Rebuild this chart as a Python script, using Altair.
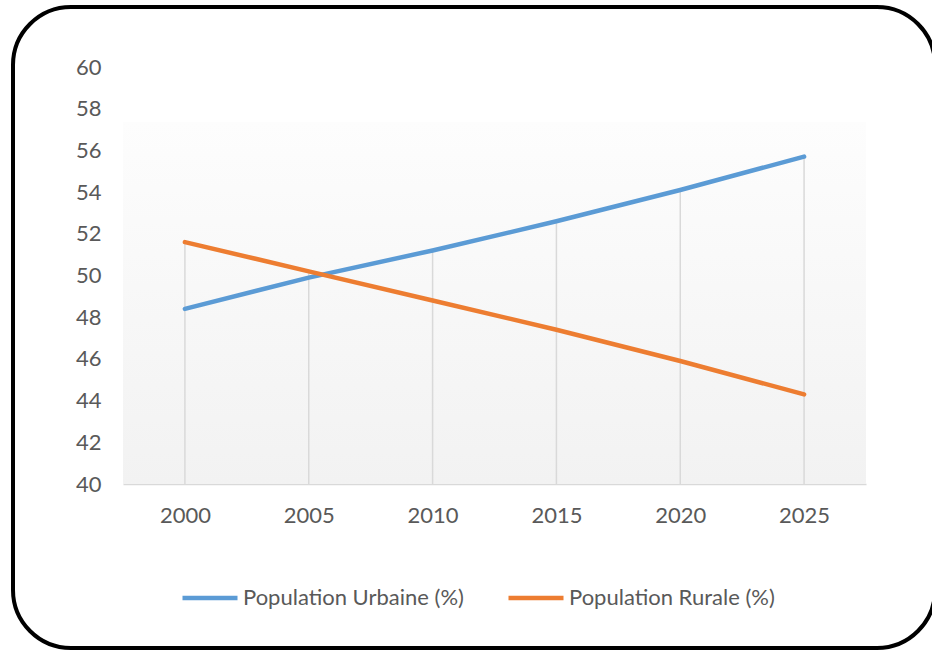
import altair as alt
import pandas as pd

years = [2000, 2005, 2010, 2015, 2020, 2025]
urban = [48.4, 49.9, 51.2, 52.6, 54.1, 55.7]
rural = [51.6, 50.2, 48.8, 47.4, 45.9, 44.3]
series_names = ["Population Urbaine (%)", "Population Rurale (%)"]
series_colors = ["#5B9BD5", "#ED7D31"]
y_ticks = [40, 42, 44, 46, 48, 50, 52, 54, 56, 58, 60]

FONT = "Lato"
TXT = "#595959"

long_df = pd.DataFrame(
    {
        "year": years * 2,
        "value": urban + rural,
        "series": [series_names[0]] * len(years) + [series_names[1]] * len(years),
    }
)
drop_df = pd.DataFrame({"year": years, "top": [max(u, r) for u, r in zip(urban, rural)]})

W, H = 743, 417

x_scale = alt.Scale(domain=[1997.5, 2027.5], nice=False, zero=False)
y_scale = alt.Scale(domain=[40, 60], nice=False, zero=False)

frame = alt.Chart(pd.DataFrame({"a": [0]})).mark_rect(
    fill=None, fillOpacity=0, stroke="black", strokeWidth=4, cornerRadius=58
).encode(
    x=alt.value(-110), x2=alt.value(812), y=alt.value(-60), y2=alt.value(581)
)

bg = alt.Chart(pd.DataFrame({"a": [0]})).mark_rect(
    color=alt.LinearGradient(
        gradient="linear",
        stops=[
            alt.GradientStop(color="#FDFDFD", offset=0),
            alt.GradientStop(color="#F2F2F2", offset=1),
        ],
        x1=0, x2=0, y1=0, y2=1,
    )
).encode(x=alt.value(0), x2=alt.value(W), y=alt.value(55), y2=alt.value(H))

drops = alt.Chart(drop_df).mark_rule(color="#D9D9D9", strokeWidth=1.5).encode(
    x=alt.X("year:Q", scale=x_scale,
            axis=alt.Axis(values=years, format="d", title=None, grid=False, ticks=False,
                          domain=True, domainColor="#D9D9D9", domainWidth=1.5,
                          labelFont=FONT, labelFontSize=22, labelColor=TXT, labelPadding=21)),
    y=alt.Y("top:Q", scale=y_scale,
            axis=alt.Axis(values=y_ticks, title=None, grid=False, ticks=False, domain=False,
                          labelFont=FONT, labelFontSize=22, labelColor=TXT, labelPadding=22)),
    y2=alt.datum(40),
)

lines = alt.Chart(long_df).mark_line(strokeWidth=4.5, strokeCap="round", strokeJoin="round").encode(
    x=alt.X("year:Q", scale=x_scale),
    y=alt.Y("value:Q", scale=y_scale),
    color=alt.Color(
        "series:N",
        scale=alt.Scale(domain=series_names, range=series_colors),
        sort=series_names,
        legend=alt.Legend(
            title=None, orient="none", legendX=57, legendY=501, direction="horizontal",
            symbolType="stroke", symbolSize=3025, symbolStrokeWidth=4.5,
            labelFont=FONT, labelFontSize=22, labelColor=TXT, labelOffset=3,
            columnPadding=35, labelLimit=400,
        ),
    ),
)

chart = alt.layer(frame, bg, drops, lines).properties(
    width=W, height=H,
    padding={"left": 123, "top": 67, "right": 66, "bottom": 166},
    autosize=alt.AutoSizeParams(type="none"),
    background="white",
).configure_view(stroke=None)

chart.save("out.html", embed_options={"renderer": "svg", "actions": False})
